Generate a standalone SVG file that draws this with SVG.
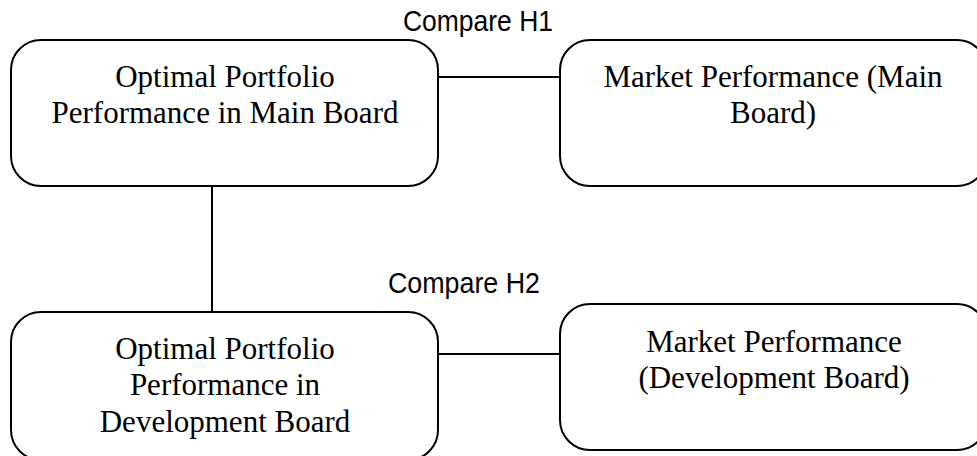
<svg xmlns="http://www.w3.org/2000/svg" width="977" height="456" viewBox="0 0 977 456">
<style>
.box{fill:#fff;stroke:#000;stroke-width:2}
.lbl{font-family:"Liberation Serif","Times New Roman",serif;font-size:31px;fill:#000;text-anchor:middle}
.cmp{font-family:"Liberation Sans Narrow","Liberation Sans",sans-serif;font-size:29px;fill:#000}
.conn{stroke:#000;stroke-width:2;fill:none}
</style>
<rect width="977" height="456" fill="#fff"/>
<g id="connectors">
<line class="conn" x1="438" y1="77" x2="560" y2="77"/>
<line class="conn" x1="438" y1="354" x2="560" y2="354"/>
<line class="conn" x1="212" y1="183" x2="212" y2="312"/>
</g>
<g id="compareH1"><text class="cmp" x="403" y="31" textLength="150" lengthAdjust="spacingAndGlyphs">Compare H1</text></g>
<g id="compareH2"><text class="cmp" x="388" y="293" textLength="152" lengthAdjust="spacingAndGlyphs">Compare H2</text></g>
<g id="node1">
<rect class="box" x="11" y="40" width="427" height="146" rx="30" ry="30"/>
<text class="lbl" x="225" y="87">Optimal Portfolio</text>
<text class="lbl" x="225" y="123">Performance in Main Board</text>
</g>
<g id="node2">
<rect class="box" x="560" y="40" width="427" height="146" rx="30" ry="30"/>
<text class="lbl" x="773" y="87">Market Performance (Main</text>
<text class="lbl" x="773" y="123">Board)</text>
</g>
<g id="node3">
<rect class="box" x="11" y="312" width="427" height="148" rx="30" ry="30"/>
<text class="lbl" x="225" y="359">Optimal Portfolio</text>
<text class="lbl" x="225" y="395">Performance in</text>
<text class="lbl" x="225" y="432">Development Board</text>
</g>
<g id="node4">
<rect class="box" x="560" y="304" width="427" height="146" rx="30" ry="30"/>
<text class="lbl" x="774" y="352">Market Performance</text>
<text class="lbl" x="774" y="388">(Development Board)</text>
</g>
</svg>
